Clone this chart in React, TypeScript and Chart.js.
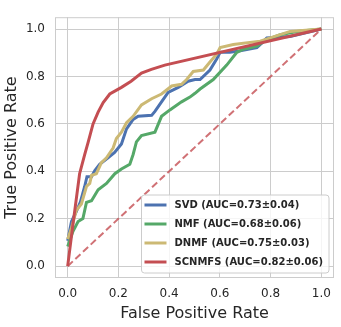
import React, { useEffect, useRef } from "react";
import { Chart, registerables } from "chart.js";

Chart.register(...registerables);

const SVD_FPR = [0, 0.015, 0.03, 0.05, 0.067, 0.076, 0.094, 0.107, 0.126, 0.159, 0.185, 0.212, 0.232, 0.258, 0.278, 0.331, 0.344, 0.37, 0.396, 0.436, 0.475, 0.502, 0.522, 0.561, 0.588, 0.601, 0.64, 0.68, 0.746, 0.766, 0.785, 0.877, 1.0];
const SVD_TPR = [0.107, 0.188, 0.221, 0.27, 0.336, 0.377, 0.377, 0.403, 0.43, 0.457, 0.48, 0.515, 0.579, 0.619, 0.632, 0.636, 0.653, 0.693, 0.733, 0.754, 0.78, 0.787, 0.787, 0.827, 0.875, 0.902, 0.902, 0.908, 0.922, 0.942, 0.962, 0.969, 1.0];

const NMF_FPR = [0, 0.021, 0.041, 0.06, 0.074, 0.094, 0.12, 0.153, 0.186, 0.212, 0.245, 0.258, 0.271, 0.291, 0.344, 0.37, 0.403, 0.449, 0.482, 0.502, 0.522, 0.574, 0.627, 0.667, 0.693, 0.746, 0.785, 0.838, 0.904, 1.0];
const NMF_TPR = [0.083, 0.147, 0.188, 0.201, 0.269, 0.276, 0.322, 0.349, 0.39, 0.41, 0.43, 0.471, 0.524, 0.551, 0.565, 0.632, 0.659, 0.693, 0.713, 0.729, 0.747, 0.787, 0.848, 0.902, 0.915, 0.928, 0.956, 0.976, 0.99, 1.0];

const DNMF_FPR = [0, 0.015, 0.034, 0.054, 0.074, 0.087, 0.094, 0.113, 0.133, 0.153, 0.179, 0.192, 0.212, 0.232, 0.258, 0.291, 0.331, 0.37, 0.41, 0.449, 0.469, 0.495, 0.535, 0.561, 0.588, 0.601, 0.653, 0.759, 0.877, 1.0];
const DNMF_TPR = [0.114, 0.161, 0.235, 0.262, 0.336, 0.349, 0.383, 0.39, 0.437, 0.457, 0.498, 0.538, 0.565, 0.605, 0.632, 0.68, 0.706, 0.726, 0.76, 0.767, 0.787, 0.821, 0.827, 0.861, 0.895, 0.922, 0.935, 0.949, 0.99, 1.0];

const SCNMFS_FPR = [0, 0.02, 0.047, 0.067, 0.08, 0.1, 0.12, 0.14, 0.166, 0.212, 0.25, 0.291, 0.33, 0.383, 1.0];
const SCNMFS_TPR = [0, 0.17, 0.39, 0.47, 0.52, 0.6, 0.65, 0.69, 0.726, 0.754, 0.78, 0.814, 0.83, 0.848, 1.0];

const DIAG_X = [0, 1];
const DIAG_Y = [0, 1];

const TICKS = [0, 0.2, 0.4, 0.6, 0.8, 1.0];
const LABELS = [
  "SVD (AUC=0.73±0.04)",
  "NMF (AUC=0.68±0.06)",
  "DNMF (AUC=0.75±0.03)",
  "SCNMFS (AUC=0.82±0.06)",
];
const COLORS = ["#4C72B0", "#55A868", "#CCB974", "#C44E52"];
const SERIES_X = [SVD_FPR, NMF_FPR, DNMF_FPR, SCNMFS_FPR];
const SERIES_Y = [SVD_TPR, NMF_TPR, DNMF_TPR, SCNMFS_TPR];

const FONT = '"DejaVu Sans", "Liberation Sans", sans-serif';
const TEXT = "#262626";
const GRID = "#cccccc";

function pts(xs: number[], ys: number[]) {
  return xs.map((x, i) => ({ x, y: ys[i] }));
}

const frameLegend = {
  id: "frameLegend",
  afterDraw(chart: any) {
    const { ctx, chartArea: a } = chart;
    ctx.save();
    ctx.strokeStyle = GRID;
    ctx.lineWidth = 1;
    ctx.strokeRect(a.left + 0.5, a.top + 0.5, a.right - a.left - 1, a.bottom - a.top - 1);

    const items = chart.data.datasets.filter((d: any) => d.label);
    ctx.font = `bold 10px ${FONT}`;
    let maxW = 0;
    items.forEach((d: any) => {
      maxW = Math.max(maxW, ctx.measureText(d.label).width);
    });
    const textStart = 33;
    const boxW = textStart + maxW + 6;
    const rowH = 19;
    const boxH = 10 + rowH * (items.length - 1) + 11;
    const right = a.right - 5;
    const bottom = a.bottom - 5;
    const left = right - boxW;
    const top = bottom - boxH;
    ctx.beginPath();
    const r = 3;
    ctx.moveTo(left + r, top);
    ctx.arcTo(right, top, right, bottom, r);
    ctx.arcTo(right, bottom, left, bottom, r);
    ctx.arcTo(left, bottom, left, top, r);
    ctx.arcTo(left, top, right, top, r);
    ctx.closePath();
    ctx.fillStyle = "rgba(255,255,255,0.8)";
    ctx.fill();
    ctx.strokeStyle = GRID;
    ctx.lineWidth = 1;
    ctx.stroke();

    items.forEach((d: any, i: number) => {
      const cy = top + 10 + i * rowH;
      ctx.beginPath();
      ctx.strokeStyle = d.borderColor;
      ctx.lineWidth = 3;
      ctx.moveTo(left + 3, cy);
      ctx.lineTo(left + 25, cy);
      ctx.stroke();
      ctx.fillStyle = TEXT;
      ctx.textBaseline = "middle";
      ctx.textAlign = "left";
      ctx.fillText(d.label, left + textStart, cy + 0.5);
    });
    ctx.restore();
  },
};

export default function App() {
  const ref = useRef<HTMLCanvasElement>(null);
  useEffect(() => {
    if (!ref.current) return;
    const datasets: any[] = SERIES_X.map((xs, i) => ({
      label: LABELS[i],
      data: pts(xs, SERIES_Y[i]),
      showLine: true,
      borderColor: COLORS[i],
      backgroundColor: COLORS[i],
      borderWidth: 3,
      pointRadius: 0,
      fill: false,
      order: 5 - i,
    }));
    datasets.push({
      label: "",
      data: pts(DIAG_X, DIAG_Y),
      showLine: true,
      borderColor: "rgba(196,78,82,0.8)",
      borderDash: [7, 3.5],
      borderWidth: 2,
      pointRadius: 0,
      fill: false,
      order: 0,
    });
    const axis = (title: string, isX: boolean) => ({
      type: "linear",
      min: -0.05,
      max: 1.05,
      afterBuildTicks: (s: any) => {
        s.ticks = TICKS.map((v) => ({ value: v }));
      },
      afterFit: (s: any) => {
        if (isX) s.height = 49;
        else s.width = 55;
      },
      ticks: {
        callback: (v: any) => Number(v).toFixed(1),
        color: TEXT,
        font: { family: FONT, size: 12 },
        padding: isX ? 9 : 10,
        maxRotation: 0,
        autoSkip: false,
      },
      grid: { color: GRID, lineWidth: 1, drawTicks: false },
      border: { display: false },
      title: {
        display: true,
        text: title,
        color: TEXT,
        font: { family: FONT, size: 16 },
        padding: { top: 2, bottom: 4 },
      },
    });
    const chart = new Chart(ref.current, {
      type: "scatter",
      data: { datasets },
      options: {
        animation: false,
        responsive: false,
        devicePixelRatio: 1,
        layout: { padding: { top: 7, right: 7, left: 0, bottom: 0 } },
        plugins: { legend: { display: false }, tooltip: { enabled: false } },
        scales: { x: axis("False Positive Rate", true), y: axis("True Positive Rate", false) } as any,
      },
      plugins: [frameLegend],
    });
    return () => chart.destroy();
  }, []);
  return (
    <div style={{ position: "absolute", left: 0, top: 0, width: 341, height: 327, background: "#fff" }}>
      <canvas ref={ref} width={341} height={327} style={{ display: "block" }} />
    </div>
  );
}
